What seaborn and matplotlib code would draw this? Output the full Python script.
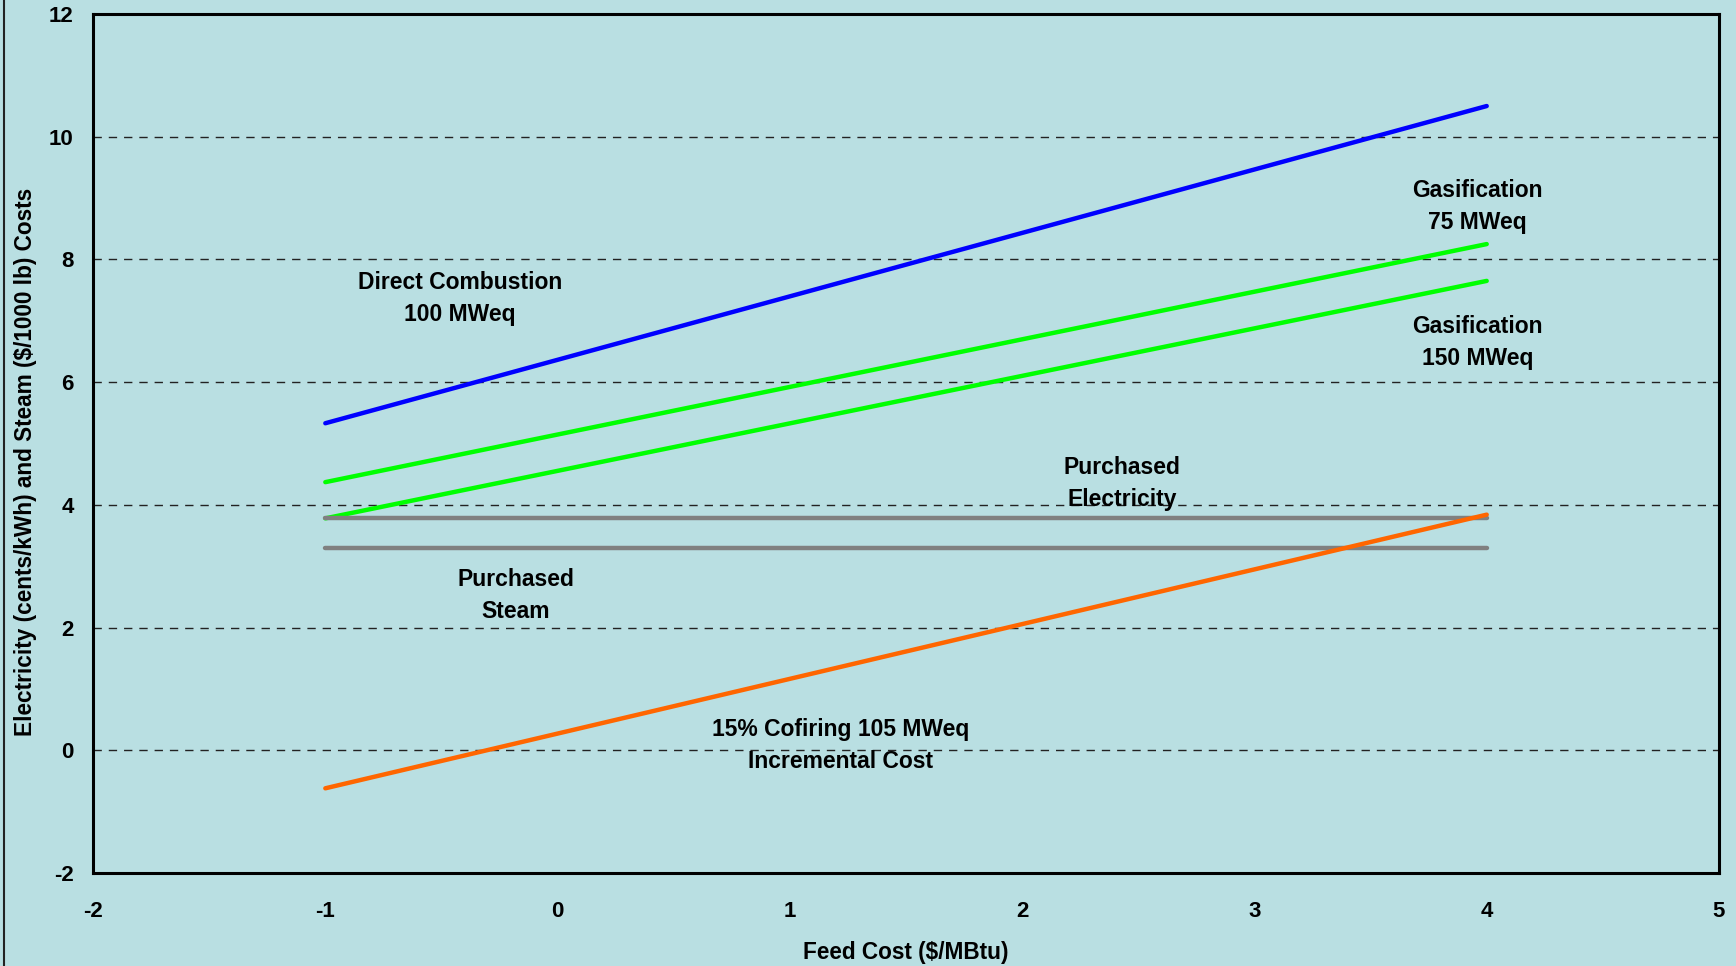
import numpy as np
import pandas as pd
import matplotlib
matplotlib.use("Agg")
import matplotlib.pyplot as plt
from matplotlib.lines import Line2D
import seaborn as sns

#%% data
feed_cost = [-1, 4]
direct_combustion = [5.33, 10.5]
gasif_75 = [4.37, 8.25]
gasif_150 = [3.78, 7.65]
purchased_elec = [3.79, 3.79]
purchased_steam = [3.30, 3.30]
cofiring = [-0.62, 3.84]

series_names = ["Direct Combustion", "Gasification 75", "Gasification 150",
                "Purchased Electricity", "Purchased Steam", "Cofiring"]
series_vals = [direct_combustion, gasif_75, gasif_150,
               purchased_elec, purchased_steam, cofiring]
series_colors = ["#0000FF", "#00FF00", "#00FF00", "#808080", "#808080", "#FF6600"]

labels = ["Direct Combustion\n100 MWeq", "Gasification\n75 MWeq", "Gasification\n150 MWeq",
          "Purchased\nElectricity", "Purchased\nSteam", "15% Cofiring 105 MWeq\nIncremental Cost"]
label_x = [-0.42, 3.96, 3.96, 2.43, -0.18, 1.22]
label_y = [7.37, 8.87, 6.65, 4.35, 2.53, 0.07]

rows = []
for name, vals in zip(series_names, series_vals):
    for x, y in zip(feed_cost, vals):
        rows.append({"Feed": x, "Cost": y, "Series": name})
df = pd.DataFrame(rows)

#%% style
bg = "#B9DFE2"
sns.set_style("white", rc={"axes.facecolor": bg, "figure.facecolor": bg,
                           "text.color": "black", "xtick.color": "black",
                           "ytick.color": "black", "axes.labelcolor": "black"})
plt.rcParams["font.family"] = ["Liberation Sans", "DejaVu Sans"]
plt.rcParams["font.weight"] = "bold"
plt.rcParams["axes.unicode_minus"] = False

fig = plt.figure(figsize=(17.36, 9.66), dpi=100)
ax = fig.add_axes([0.0536, 0.0963, 0.9366, 0.8892])

# dashed horizontal grid
for g in [0, 2, 4, 6, 8, 10]:
    ax.axhline(g, color="#222222", lw=1.0, ls=(0, (6, 5)), zorder=1)

sns.lineplot(data=df, x="Feed", y="Cost", hue="Series", hue_order=series_names,
             palette=dict(zip(series_names, series_colors)), linewidth=3.2,
             legend=False, ax=ax, solid_capstyle="round", zorder=3)
# cofiring line on top
ax.lines[-1].set_zorder(4)

for t, x, y in zip(labels, label_x, label_y):
    ax.text(x, y, t, ha="center", va="center", fontsize=16.5, fontweight="bold",
            linespacing=1.5)

ax.set_xlim(-2, 5)
ax.set_ylim(-2, 12)
ax.set_xticks(range(-2, 6))
ax.set_yticks(range(-2, 13, 2))
ax.tick_params(length=0, labelsize=16)
ax.tick_params(axis="x", pad=20)
ax.tick_params(axis="y", pad=14)
for lab in ax.get_xticklabels() + ax.get_yticklabels():
    lab.set_fontweight("bold")
for s in ax.spines.values():
    s.set_visible(True)
    s.set_color("black")
    s.set_linewidth(2.2)

ax.set_xlabel("Feed Cost ($/MBtu)", fontsize=16.3, fontweight="bold")
ax.set_ylabel("Electricity (cents/kWh) and Steam ($/1000 lb) Costs", fontsize=16.3,
              fontweight="bold")
ax.xaxis.set_label_coords(0.5, -0.079)
ax.yaxis.set_label_coords(-0.0345, 0.478)

# thin frame line on the left edge of the figure
fig.add_artist(Line2D([0.0025, 0.0025], [0, 1], transform=fig.transFigure,
                      color="#222222", lw=1.5))

fig.savefig("out.png", dpi=100, facecolor=bg)
